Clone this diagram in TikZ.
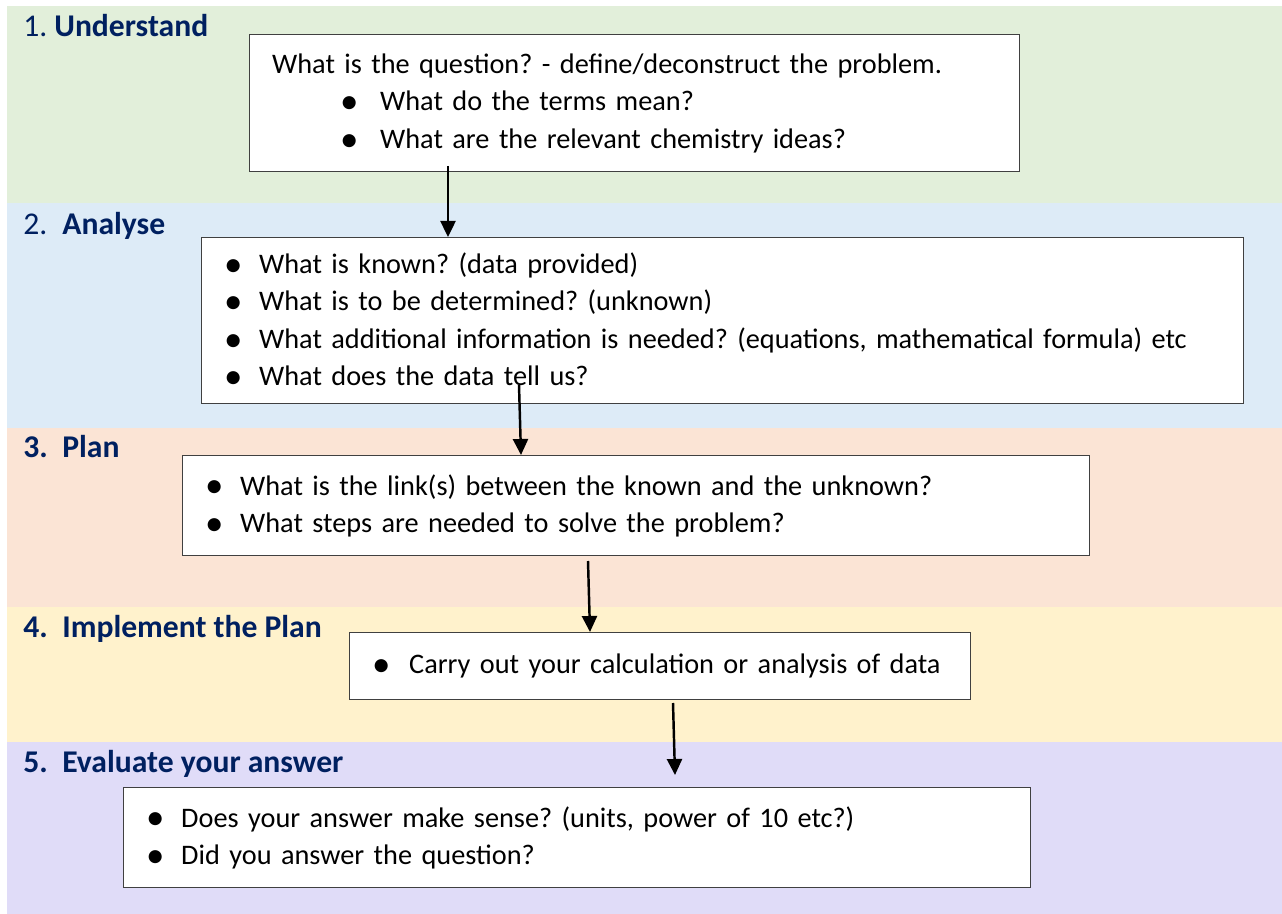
\documentclass[tikz,border=0pt]{standalone}
\usepackage{fontspec}
\setmainfont{Carlito}
\usetikzlibrary{arrows.meta}

\definecolor{bandgreen}{HTML}{E2EFDA}
\definecolor{bandblue}{HTML}{DDEBF7}
\definecolor{bandpeach}{HTML}{FBE4D5}
\definecolor{bandyellow}{HTML}{FFF2CC}
\definecolor{bandlilac}{HTML}{E0DCF8}
\definecolor{headnavy}{HTML}{002060}
\definecolor{boxgray}{HTML}{404040}

\frenchspacing
\newcommand{\bigdot}{\raisebox{-0.1em}{\fontsize{21}{0}\selectfont\textbullet}}
\newcommand{\bitem}[2][0.7cm]{\makebox[#1][l]{\bigdot}#2}

\begin{document}
\begin{tikzpicture}[
    qbox/.style={
      draw=boxgray,
      fill=white,
      line width=0.8pt,
      anchor=north west,
      inner xsep=0.45cm,
      inner ysep=0pt,
      align=left,
      font=\fontsize{16.1}{21.3}\selectfont
    },
    steplabel/.style={
      anchor=base west,
      inner sep=0pt,
      text=headnavy,
      font=\fontsize{18}{22}\selectfont
    },
    flow/.style={-{Triangle[length=0.32cm,width=0.3cm]}, line width=1.4pt}
  ]
    \useasboundingbox (0,0) rectangle (25.64,-18.28);

    \foreach \ytop/\ybot/\col in {0.12/4.06/bandgreen, 4.06/8.56/bandblue,
        8.56/12.14/bandpeach, 12.14/14.84/bandyellow, 14.84/18.28/bandlilac}
      \fill[\col] (0.14,-\ytop) rectangle (25.64,-\ybot);

    \node[steplabel] (understand) at (0.46,-0.74) {\makebox[0.62cm][l]{1.}\textbf{Understand}};
    \node[steplabel] (analyse) at (0.46,-4.70) {\makebox[0.78cm][l]{2.}\textbf{Analyse}};
    \node[steplabel] (plan) at (0.46,-9.14) {\textbf{\makebox[0.78cm][l]{3.}Plan}};
    \node[steplabel] (implement) at (0.46,-12.74) {\textbf{\makebox[0.78cm][l]{4.}Implement the Plan}};
    \node[steplabel] (evaluate) at (0.46,-15.44) {\textbf{\makebox[0.78cm][l]{5.}Evaluate your answer}};

    \node[qbox, text width=14.50cm, minimum height=2.74cm] (qbox1) at (4.98,-0.68)
      {What is the question? - define/deconstruct the problem.\\
       \hspace*{1.36cm}\bitem[0.8cm]{What do the terms mean?}\\
       \hspace*{1.36cm}\bitem[0.8cm]{What are the relevant chemistry ideas?}};
    \node[qbox, text width=19.94cm, minimum height=3.32cm] (qbox2) at (4.02,-4.74)
      {\bitem{What is known? (data provided)}\\
       \bitem{What is to be determined? (unknown)}\\
       \bitem{What additional information is needed? (equations, mathematical formula) etc}\\
       \bitem{What does the data tell us?}};
    \node[qbox, text width=17.24cm, minimum height=2.00cm] (qbox3) at (3.64,-9.10)
      {\bitem{What is the link(s) between the known and the unknown?}\\
       \bitem{What steps are needed to solve the problem?}};
    \node[qbox, text width=11.52cm, minimum height=1.34cm] (qbox4) at (6.98,-12.64)
      {\bitem[0.74cm]{Carry out your calculation or analysis of data}};
    \node[qbox, text width=17.24cm, minimum height=2.00cm] (qbox5) at (2.46,-15.74)
      {\bitem{Does your answer make sense? (units, power of 10 etc?)}\\
       \bitem{Did you answer the question?}};

    \coordinate (from1) at (8.96,-3.32);
    \coordinate (from2) at (10.38,-7.70);
    \coordinate (from3) at (11.76,-11.22);
    \coordinate (from4) at (13.46,-14.06);
    \coordinate (to4) at (13.50,-15.50);

    \draw[flow] (from1) -- (from1 |- qbox2.north);
    \draw[flow] (from2) -- ([xshift=0.04cm]from2 |- qbox3.north);
    \draw[flow] (from3) -- ([xshift=0.04cm]from3 |- qbox4.north);
    \draw[flow] (from4) -- (to4);
  \end{tikzpicture}
\end{document}
